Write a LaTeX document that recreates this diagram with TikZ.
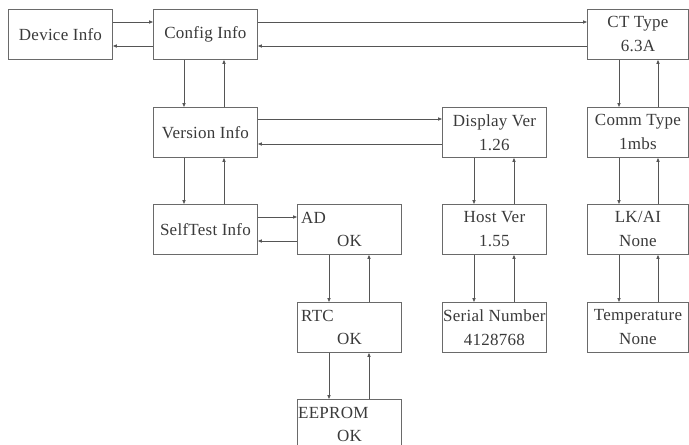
\documentclass[tikz,border=0pt]{standalone}
\usepackage{fontspec}
\setmainfont{Liberation Serif}[LetterSpace=1.5]
\usetikzlibrary{arrows.meta}
\definecolor{boxline}{HTML}{6A6A6A}
\definecolor{conn}{HTML}{555555}
\definecolor{txt}{HTML}{3A3A3A}
\begin{document}
\begin{tikzpicture}[x=1pt,y=-1pt,
  box/.style={draw=boxline, line width=0.9pt, anchor=north west, minimum height=50pt,
    inner sep=0pt, text=txt, align=center, font=\fontsize{17}{24}\selectfont},
  wbox/.style={box, minimum width=104pt},
  rbox/.style={box, minimum width=101pt},
  lbl/.style={text=txt, inner sep=0pt, font=\fontsize{17}{24}\selectfont},
  arr/.style={draw=conn, line width=0.8pt, -{Triangle[length=4pt,width=3.2pt]}}]
\useasboundingbox (0,0) rectangle (689,445);
\clip (0,0) rectangle (689,445);
\fill[white] (0,0) rectangle (689,445);
% boxes
\node[wbox] (dev) at (8,9) {Device Info};
\node[wbox] (cfg) at (153,9) {Config Info};
\node[rbox] (ct) at (587,9) {CT Type\\6.3A};
\node[wbox] (ver) at (153,107) {Version Info};
\node[wbox] (disp) at (442,107) {Display Ver\\1.26};
\node[rbox] (comm) at (587,107) {Comm Type\\1mbs};
\node[wbox] (sft) at (153,204) {SelfTest Info};
\node[wbox] (ad) at (297,204) {};
\node[wbox] (host) at (442,204) {Host Ver\\1.55};
\node[rbox] (lk) at (587,204) {LK/AI\\None};
\node[wbox] (rtc) at (297,302) {};
\node[wbox] (ser) at (442,302) {Serial Number\\4128768};
\node[rbox] (temp) at (587,302) {Temperature\\None};
\node[wbox] (eep) at (297,399) {};
% labels inside status boxes
\node[lbl, anchor=west] (adname) at ([xshift=4pt,yshift=-14pt]ad.north west) {AD};
\node[lbl] (adok) at ([yshift=-37pt]ad.north) {OK};
\node[lbl, anchor=west] (rtcname) at ([xshift=4pt,yshift=-14pt]rtc.north west) {RTC};
\node[lbl] (rtcok) at ([yshift=-37pt]rtc.north) {OK};
\node[lbl, anchor=west] (eepname) at ([xshift=1pt,yshift=-14pt]eep.north west) {EEPROM};
\node[lbl] (eepok) at ([yshift=-37pt]eep.north) {OK};
% horizontal connectors
\draw[arr] ([yshift=-13pt]dev.north east) -- ([yshift=-13pt]cfg.north west);
\draw[arr] ([yshift=-37pt]cfg.north west) -- ([yshift=-37pt]dev.north east);
\draw[arr] ([yshift=-13pt]cfg.north east) -- ([yshift=-13pt]ct.north west);
\draw[arr] ([yshift=-37pt]ct.north west) -- ([yshift=-37pt]cfg.north east);
\draw[arr] ([yshift=-12pt]ver.north east) -- ([yshift=-12pt]disp.north west);
\draw[arr] ([yshift=-37pt]disp.north west) -- ([yshift=-37pt]ver.north east);
\draw[arr] ([yshift=-13pt]sft.north east) -- ([yshift=-13pt]ad.north west);
\draw[arr] ([yshift=-37pt]ad.north west) -- ([yshift=-37pt]sft.north east);
% vertical connectors
\foreach \a/\b/\d/\u in {cfg/ver/31/71, ver/sft/31/71, ct/comm/32/71, comm/lk/32/71, lk/temp/32/71,
  disp/host/32/72, host/ser/32/72, ad/rtc/32/72, rtc/eep/32/72}{
  \draw[arr] ([xshift=\d pt]\a.south west) -- ([xshift=\d pt]\b.north west);
  \draw[arr] ([xshift=\u pt]\b.north west) -- ([xshift=\u pt]\a.south west);
}
\end{tikzpicture}
\end{document}
